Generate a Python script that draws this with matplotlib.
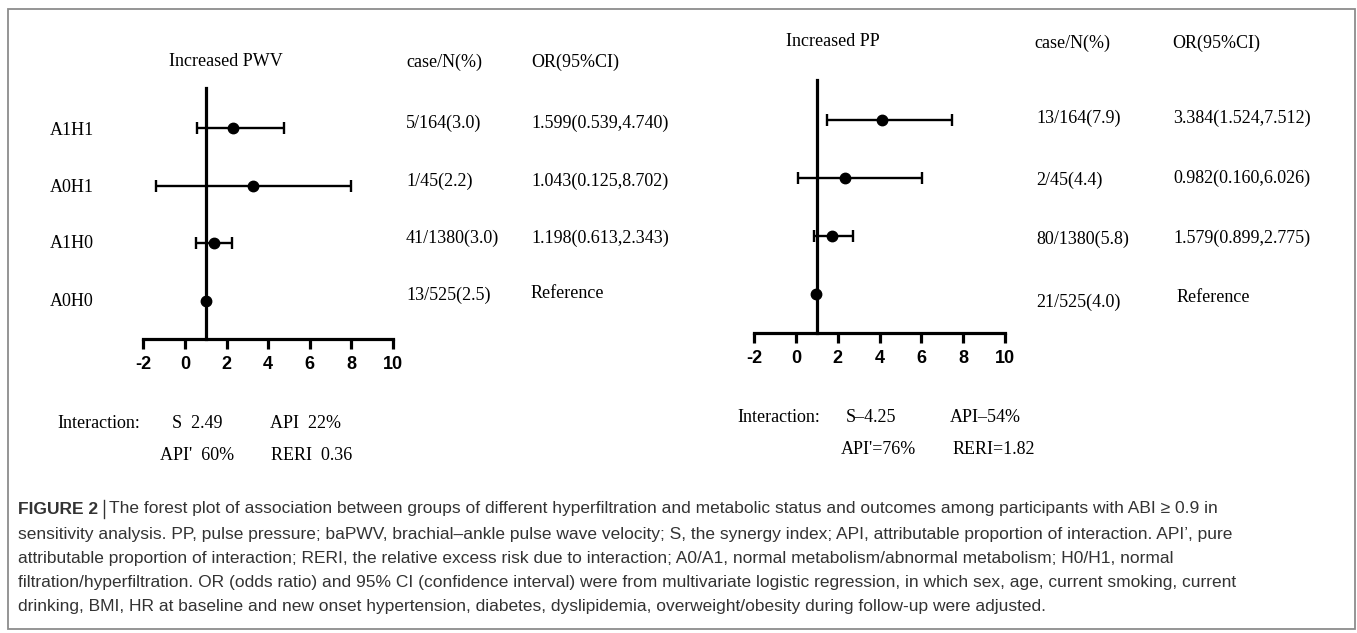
import matplotlib
matplotlib.use('Agg')
import matplotlib.pyplot as plt
from matplotlib.patches import Rectangle
import numpy as np

# Datos
groups = ['A1H1', 'A0H1', 'A1H0', 'A0H0']

pwv_or = [2.30, 3.27, 1.38, 1.00]
pwv_lo = [0.57, -1.39, 0.52]
pwv_hi = [4.75, 7.99, 2.26]
pwv_case = ['5/164(3.0)', '1/45(2.2)', '41/1380(3.0)', '13/525(2.5)']
pwv_ci = ['1.599(0.539,4.740)', '1.043(0.125,8.702)', '1.198(0.613,2.343)', 'Reference']

pp_or = [4.11, 2.36, 1.72, 0.97]
pp_lo = [1.47, 0.11, 0.86]
pp_hi = [7.45, 6.01, 2.74]
pp_case = ['13/164(7.9)', '2/45(4.4)', '80/1380(5.8)', '21/525(4.0)']
pp_ci = ['3.384(1.524,7.512)', '0.982(0.160,6.026)', '1.579(0.899,2.775)', 'Reference']

x_ticks = [-2, 0, 2, 4, 6, 8, 10]

pwv_inter = [['Interaction:', 'S  2.49', 'API  22%'], ['API\'  60%', 'RERI  0.36']]
pp_inter = [['Interaction:', 'S\u20134.25', 'API\u201354%'], ['API\'=76%', 'RERI=1.82']]

caption = [
    'The forest plot of association between groups of different hyperfiltration and metabolic status and outcomes among participants with ABI \u2265 0.9 in',
    'sensitivity analysis. PP, pulse pressure; baPWV, brachial\u2013ankle pulse wave velocity; S, the synergy index; API, attributable proportion of interaction. API\u2019, pure',
    'attributable proportion of interaction; RERI, the relative excess risk due to interaction; A0/A1, normal metabolism/abnormal metabolism; H0/H1, normal',
    'filtration/hyperfiltration. OR (odds ratio) and 95% CI (confidence interval) were from multivariate logistic regression, in which sex, age, current smoking, current',
    'drinking, BMI, HR at baseline and new onset hypertension, diabetes, dyslipidemia, overweight/obesity during follow-up were adjusted.',
]

W, H = 1357, 633
fig = plt.figure(figsize=(W / 100, H / 100), dpi=100)

serif = ['Liberation Serif', 'DejaVu Serif']
sans = ['Liberation Sans', 'DejaVu Sans']
narrow = ['Liberation Sans Narrow', 'Liberation Sans', 'DejaVu Sans']


def txt(x, y, s, **kw):
    # posicion en pixeles de la imagen (origen arriba a la izquierda)
    kw.setdefault('family', serif)
    kw.setdefault('fontsize', 13)
    kw.setdefault('va', 'center')
    return fig.text(x / W, 1 - y / H, s, **kw)


def forest(x0, x1, ytop, ybot, ors, los, his, ylim):
    ax = fig.add_axes([x0 / W, 1 - ybot / H, (x1 - x0) / W, (ybot - ytop) / H])
    rows = np.arange(len(ors))
    n = len(los)
    ors = np.array(ors)
    ax.errorbar(ors[:n], rows[:n], xerr=[ors[:n] - np.array(los), np.array(his) - ors[:n]],
                fmt='none', ecolor='black', elinewidth=1.7, capsize=4.5, capthick=1.7, zorder=3)
    ax.plot(ors, rows, 'o', color='black', ms=7.5, zorder=4)
    ax.set_xlim(-2, 10)
    ax.set_ylim(*ylim)
    ax.spines['top'].set_visible(False)
    ax.spines['right'].set_visible(False)
    ax.spines['left'].set_position(('data', 1))
    ax.spines['left'].set_linewidth(2.3)
    ax.spines['bottom'].set_linewidth(2.3)
    ax.set_yticks([])
    ax.set_xticks(x_ticks)
    ax.set_xticklabels([str(t) for t in x_ticks], family=sans, fontweight='bold', fontsize=13)
    ax.tick_params(axis='x', direction='out', length=7, width=2.3, pad=5)
    ax.patch.set_alpha(0)
    return ax


# Panel izquierdo: Increased PWV
forest(143.3, 393, 88, 339.3, pwv_or, pwv_lo, pwv_hi, (3.665, -0.70))
txt(225.5, 62, 'Increased PWV', ha='center')
txt(406, 62, 'case/N(%)')
txt(531, 62, 'OR(95%CI)')
for lab, yy in zip(groups, [130, 187, 243, 302]):
    txt(50, yy, lab)
for c, yy in zip(pwv_case, [123, 181, 238, 295]):
    txt(406, yy, c)
for c, yy in zip(pwv_ci, [123, 181, 238, 293]):
    txt(531, yy, c)

# Panel derecho: Increased PP
forest(754.3, 1005, 80, 333.3, pp_or, pp_lo, pp_hi, (3.68, -0.70))
txt(833, 42, 'Increased PP', ha='center')
txt(1034, 43, 'case/N(%)')
txt(1172, 43, 'OR(95%CI)')
for c, yy in zip(pp_case, [118, 180, 239, 302]):
    txt(1036, yy, c)
for c, yy, xx in zip(pp_ci, [118, 178, 238, 298], [1173, 1173, 1173, 1177]):
    txt(xx, yy, c)

# Indices de interaccion
for s, xx in zip(pwv_inter[0], [57, 172, 270]):
    txt(xx, 423, s)
for s, xx in zip(pwv_inter[1], [160, 271]):
    txt(xx, 455, s)
for s, xx in zip(pp_inter[0], [737, 846, 950]):
    txt(xx, 418, s)
for s, xx in zip(pp_inter[1], [841, 953]):
    txt(xx, 450, s)

# Pie de figura
cap_color = '#333333'
cap_y = [509, 534, 559, 583, 607]
t0 = txt(18, cap_y[0], 'FIGURE 2', family=narrow, fontweight='bold', fontsize=12.5, color=cap_color)
r = fig.canvas.get_renderer()
bb = t0.get_window_extent(r)
x_bar = bb.x1 + 6
fig.add_artist(plt.Line2D([x_bar / W, x_bar / W], [1 - (cap_y[0] - 9) / H, 1 - (cap_y[0] + 9) / H],
                          color=cap_color, lw=1.0))
txt(x_bar + 5, cap_y[0], caption[0], family=narrow, fontsize=12.5, color=cap_color)
for line, yy in zip(caption[1:], cap_y[1:]):
    txt(18, yy, line, family=narrow, fontsize=12.5, color=cap_color)

# Marco
fig.add_artist(Rectangle((8 / W, 1 - 629 / H), (1355 - 8) / W, (629 - 9) / H,
                         transform=fig.transFigure, fill=False, edgecolor='#8c8c8c', lw=1.3))

plt.savefig('out.png', dpi=100)
plt.close()
